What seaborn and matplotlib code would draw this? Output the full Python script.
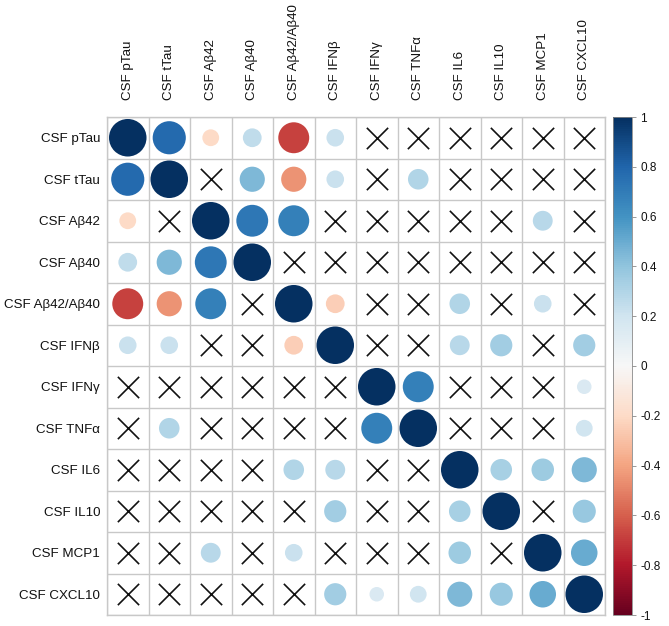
import numpy as np
import pandas as pd
import matplotlib
matplotlib.use("Agg")
import matplotlib.pyplot as plt
import seaborn as sns
from matplotlib.colors import Normalize
from matplotlib.cm import ScalarMappable

labels = ["CSF pTau", "CSF tTau", "CSF Aβ42", "CSF Aβ40", "CSF Aβ42/Aβ40", "CSF IFNβ",
          "CSF IFNγ", "CSF TNFα", "CSF IL6", "CSF IL10", "CSF MCP1", "CSF CXCL10"]

# None = not significant (drawn as a cross)
X = None
corr = [
    [1.00, 0.78, -0.20, 0.25, -0.68, 0.22, X, X, X, X, X, X],
    [0.78, 1.00, X, 0.45, -0.45, 0.22, X, 0.30, X, X, X, X],
    [-0.20, X, 1.00, 0.72, 0.68, X, X, X, X, X, 0.28, X],
    [0.25, 0.45, 0.72, 1.00, X, X, X, X, X, X, X, X],
    [-0.68, -0.45, 0.68, X, 1.00, -0.25, X, X, 0.30, X, 0.22, X],
    [0.22, 0.22, X, X, -0.25, 1.00, X, X, 0.28, 0.35, X, 0.35],
    [X, X, X, X, X, X, 1.00, 0.68, X, X, X, 0.15],
    [X, 0.30, X, X, X, X, 0.68, 1.00, X, X, X, 0.20],
    [X, X, X, X, 0.30, 0.28, X, X, 1.00, 0.33, 0.36, 0.45],
    [X, X, X, X, X, 0.35, X, X, 0.33, 1.00, X, 0.38],
    [X, X, 0.28, X, 0.22, X, X, X, 0.36, X, 1.00, 0.50],
    [X, X, X, X, X, 0.35, 0.15, 0.20, 0.45, 0.38, 0.50, 1.00],
]
cbar_ticks = [-1, -0.8, -0.6, -0.4, -0.2, 0, 0.2, 0.4, 0.6, 0.8, 1]

circ_rows, x_rows = [], []
for i, row in enumerate(corr):
    for j, v in enumerate(row):
        if v is None:
            x_rows.append({"row": i, "col": j})
        else:
            circ_rows.append({"row": i, "col": j, "r": v, "absr": abs(v)})
circ = pd.DataFrame(circ_rows)
xs = pd.DataFrame(x_rows)

sns.set_style("white")
plt.rcParams["font.family"] = ["Liberation Sans", "DejaVu Sans"]

fig = plt.figure(figsize=(6.69, 6.26), dpi=100)
ax = fig.add_axes([107 / 669, 1 - 615 / 626, 498 / 669, 498 / 626])

n = len(labels)
sns.scatterplot(data=circ, x="col", y="row", hue="r", size="absr",
                palette="RdBu", hue_norm=(-1, 1), sizes=(0, 730), size_norm=(0, 1),
                linewidth=0, legend=False, ax=ax, zorder=3)
sns.scatterplot(data=xs, x="col", y="row", marker="x", s=235, color="#111111",
                linewidth=1.2, legend=False, ax=ax, zorder=3)

ax.set_xlim(-0.5, n - 0.5)
ax.set_ylim(n - 0.5, -0.5)
ax.set_xticks(range(n))
ax.set_yticks(range(n))
ax.set_xticklabels(labels, rotation=90, fontsize=9.6, color="#111111")
ax.set_yticklabels(labels, fontsize=9.6, color="#111111")
ax.xaxis.tick_top()
ax.tick_params(axis="y", length=0, pad=5)
ax.tick_params(axis="x", length=0, pad=12)
ax.set_xticks(np.arange(-0.5, n, 1), minor=True)
ax.set_yticks(np.arange(-0.5, n, 1), minor=True)
ax.tick_params(which="minor", length=0)
ax.grid(which="minor", color="#c8c8c8", linewidth=1)
ax.grid(which="major", visible=False)
ax.set_xlabel("")
ax.set_ylabel("")
for s in ax.spines.values():
    s.set_color("#c8c8c8")
    s.set_linewidth(1)

cax = fig.add_axes([613 / 669, 1 - 615 / 626, 19 / 669, 498 / 626])
cb = fig.colorbar(ScalarMappable(norm=Normalize(-1, 1), cmap="RdBu"), cax=cax, ticks=cbar_ticks)
cb.ax.set_yticklabels([f"{t:g}" for t in cbar_ticks], fontsize=8.5, color="#111111")
cb.ax.tick_params(length=3, width=0.6, color="#888888", pad=3)
cb.outline.set_edgecolor("#888888")
cb.outline.set_linewidth(0.6)

fig.savefig("out.png", dpi=100)
